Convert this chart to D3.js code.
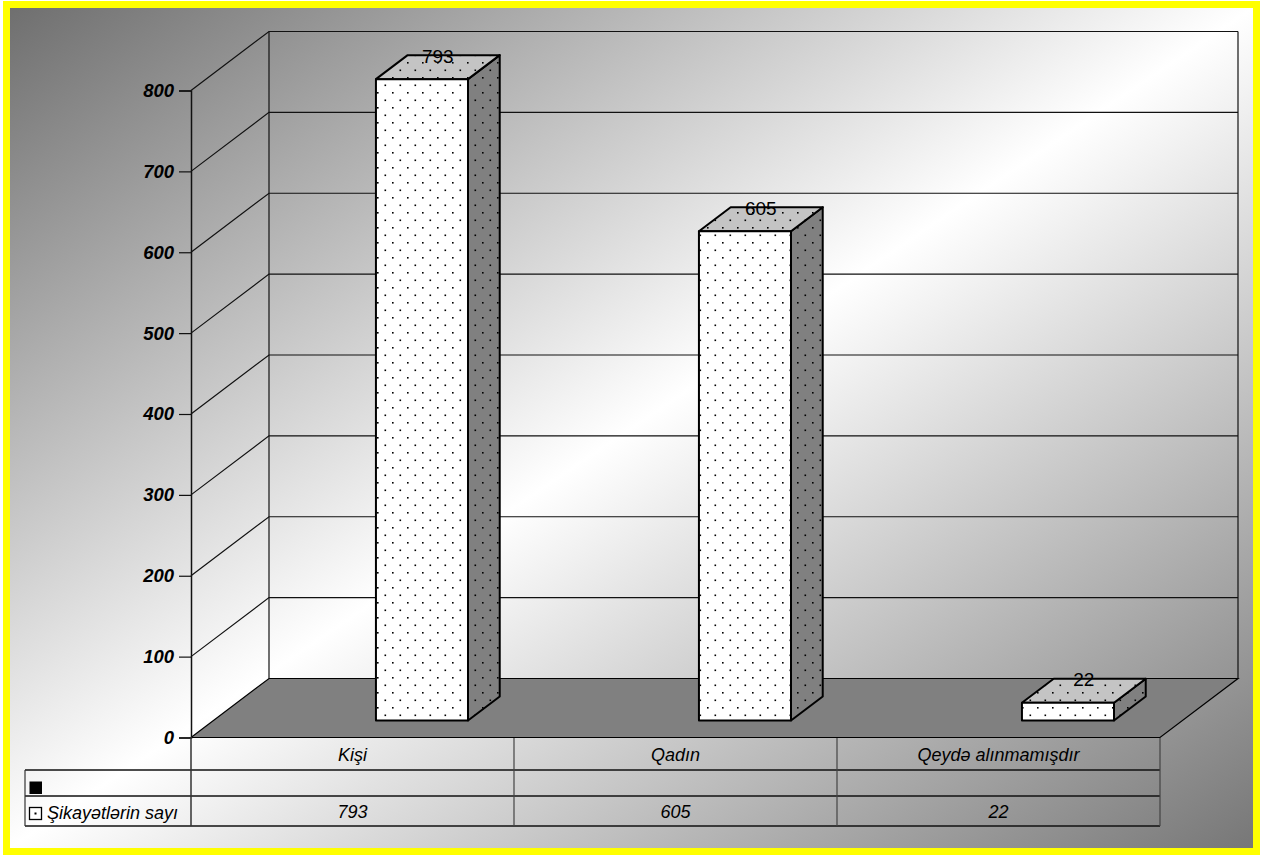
<!DOCTYPE html>
<html>
<head>
<meta charset="utf-8">
<script src="https://cdn.jsdelivr.net/npm/d3@7"></script>
<style>
  html, body { margin: 0; padding: 0; background: #fff; }
  svg { display: block; font-family: "Liberation Sans", Arial, sans-serif; }
</style>
</head>
<body>
<svg id="chart" width="1269" height="855"></svg>
<script>
// ---- data ----
const categories = ["Kişi", "Qadın", "Qeydə alınmamışdır"];
const complaintCounts = [793, 605, 22];
const seriesNames = ["", "Şikayətlərin sayı"];
const emptySeries = [null, null, null];
const yTickValues = [0, 100, 200, 300, 400, 500, 600, 700, 800];
const yTickLabels = ["0", "100", "200", "300", "400", "500", "600", "700", "800"];

// ---- layout ----
const svg = d3.select("#chart");
const DX = 78, DY = -59;          // depth vector of the 3D box
const f0 = 17 / 59, f1 = 41 / 59; // bar depth fractions

const y = d3.scaleLinear().domain([0, 800]).range([737.5, 90.5]);
const x = d3.scaleBand().domain(categories).range([191, 1160]).padding(0);
const bw = x.bandwidth();

const defs = svg.append("defs");
const bg = defs.append("linearGradient").attr("id", "bgGrad")
  .attr("x1", 0).attr("y1", 0).attr("x2", 1).attr("y2", 1);
bg.append("stop").attr("offset", "0%").attr("stop-color", "#6f6f6f");
bg.append("stop").attr("offset", "50%").attr("stop-color", "#ffffff");
bg.append("stop").attr("offset", "100%").attr("stop-color", "#777777");

function dotPattern(id, fill) {
  const p = defs.append("pattern").attr("id", id)
    .attr("patternUnits", "userSpaceOnUse").attr("width", 15).attr("height", 15);
  p.append("rect").attr("width", 15).attr("height", 15).attr("fill", fill);
  p.append("rect").attr("x", 2).attr("y", 2).attr("width", 1.6).attr("height", 1.6).attr("fill", "#000");
  p.append("rect").attr("x", 9.5).attr("y", 9.5).attr("width", 1.6).attr("height", 1.6).attr("fill", "#000");
}
dotPattern("dotFront", "#ffffff");
dotPattern("dotTop", "#c4c4c4");
dotPattern("dotSide", "#808080");

// frame
svg.append("rect").attr("x", 3).attr("y", 1).attr("width", 1257).attr("height", 856).attr("fill", "#ffff00");
svg.append("rect").attr("x", 10).attr("y", 8).attr("width", 1243).attr("height", 840).attr("fill", "url(#bgGrad)");

const g = svg.append("g");
const x0 = x.range()[0], x1 = x.range()[1];
const line = d3.line();

// floor
g.append("path")
  .attr("d", line([[x0, y(0)], [x0 + DX, y(0) + DY], [x1 + DX, y(0) + DY], [x1, y(0)]]) + "Z")
  .attr("fill", "#808080").attr("stroke", "#000").attr("stroke-width", 1.2);

// back wall gridlines and left wall lines
const grid = g.append("g").attr("stroke", "#111").attr("stroke-width", 1.2).attr("fill", "none");
yTickValues.filter(v => v > 0).forEach(v => {
  grid.append("path").attr("d", line([[x0, y(v)], [x0 + DX, y(v) + DY], [x1 + DX, y(v) + DY]]));
});
grid.append("path").attr("d", line([[x0 + DX, y(0) + DY], [x0 + DX, y(800) + DY]]));
grid.append("path").attr("d", line([[x1 + DX, y(0) + DY], [x1 + DX, y(800) + DY]]));

// axis
const axis = d3.axisLeft(y).tickValues(yTickValues).tickSize(12).tickPadding(5)
  .tickFormat((d, i) => yTickLabels[i]);
const ax = g.append("g").attr("transform", `translate(${x0},0)`).call(axis);
ax.select(".domain").attr("stroke", "#111").attr("stroke-width", 1.5);
ax.selectAll(".tick line").attr("stroke", "#111").attr("stroke-width", 1.2);
ax.selectAll(".tick text")
  .attr("font-size", 18.5).attr("font-weight", "bold").attr("font-style", "italic")
  .attr("fill", "#000").attr("font-family", "'Liberation Sans', Arial, sans-serif");

// bars
const bars = g.append("g");
categories.forEach((c, i) => {
  const v = complaintCounts[i];
  const xl = x(c) + 0.503 * bw, xr = xl + 0.285 * bw;
  const yt = y(v), yb = y(0);
  const a = [DX * f0, DY * f0], b = [DX * f1, DY * f1];
  const bg1 = bars.append("g").attr("stroke", "#000").attr("stroke-width", 2).attr("stroke-linejoin", "round");
  bg1.append("path").attr("fill", "url(#dotSide)")
    .attr("d", line([[xr + a[0], yt + a[1]], [xr + b[0], yt + b[1]], [xr + b[0], yb + b[1]], [xr + a[0], yb + a[1]]]) + "Z");
  bg1.append("path").attr("fill", "url(#dotTop)")
    .attr("d", line([[xl + a[0], yt + a[1]], [xr + a[0], yt + a[1]], [xr + b[0], yt + b[1]], [xl + b[0], yt + b[1]]]) + "Z");
  bg1.append("path").attr("fill", "url(#dotFront)")
    .attr("d", line([[xl + a[0], yt + a[1]], [xr + a[0], yt + a[1]], [xr + a[0], yb + a[1]], [xl + a[0], yb + a[1]]]) + "Z");
  bars.append("text")
    .attr("x", (xl + xr) / 2 + (a[0] + b[0]) / 2)
    .attr("y", yt + b[1] + 7.5)
    .attr("text-anchor", "middle").attr("font-size", 19).attr("fill", "#000")
    .text(v);
});

// data table
const tbl = g.append("g");
const tLeft = 25;
[770, 796, 826].forEach(yy => {
  tbl.append("line").attr("x1", tLeft).attr("x2", x1).attr("y1", yy).attr("y2", yy)
    .attr("stroke", "#111").attr("stroke-width", 1.3);
});
tbl.append("line").attr("x1", tLeft).attr("x2", tLeft).attr("y1", 770).attr("y2", 826)
  .attr("stroke", "#333").attr("stroke-width", 1.2);
tbl.append("line").attr("x1", x0).attr("x2", x0).attr("y1", 737).attr("y2", 826)
  .attr("stroke", "#333").attr("stroke-width", 1.5);
categories.forEach((c, i) => {
  const xe = x(c) + bw;
  tbl.append("line").attr("x1", xe).attr("x2", xe).attr("y1", 738).attr("y2", 826)
    .attr("stroke", "#444").attr("stroke-width", 1.2);
  tbl.append("text").attr("x", x(c) + bw / 2).attr("y", 761)
    .attr("text-anchor", "middle").attr("font-size", 18).attr("font-style", "italic").text(c);
  tbl.append("text").attr("x", x(c) + bw / 2).attr("y", 818)
    .attr("text-anchor", "middle").attr("font-size", 18).attr("font-style", "italic").text(complaintCounts[i]);
});
// legend keys
tbl.append("rect").attr("x", 29.5).attr("y", 781.5).attr("width", 12.5).attr("height", 12.5).attr("fill", "#000");
tbl.append("rect").attr("x", 29.5).attr("y", 807.5).attr("width", 12).attr("height", 12)
  .attr("fill", "#fff").attr("stroke", "#000").attr("stroke-width", 1.3);
tbl.append("rect").attr("x", 34.5).attr("y", 812.5).attr("width", 2).attr("height", 2).attr("fill", "#000");
tbl.append("text").attr("x", 47).attr("y", 819).attr("font-size", 18).attr("font-style", "italic").text(seriesNames[1]);
tbl.append("text").attr("x", 47).attr("y", 793).attr("font-size", 18).attr("font-style", "italic").text(seriesNames[0]);
</script>
</body>
</html>
